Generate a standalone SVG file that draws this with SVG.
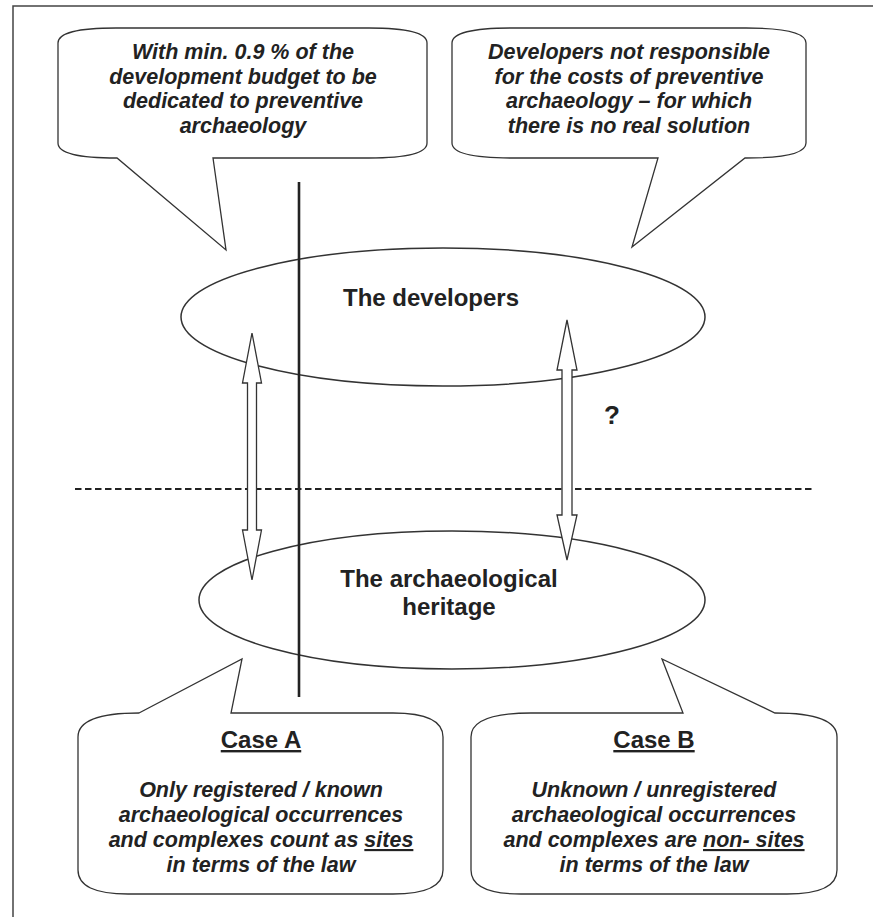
<svg xmlns="http://www.w3.org/2000/svg" width="873" height="917" viewBox="0 0 873 917">
<style>
.shape{fill:#fff;stroke:#333;stroke-width:1.3}
.ell{fill:none;stroke:#333;stroke-width:1.5}
.arrow{fill:#fff;stroke:#333;stroke-width:1.3}
.t{font-family:"Liberation Sans",Arial,sans-serif;font-weight:bold;fill:#222;text-anchor:middle}
.it{font-style:italic;font-size:21.5px}
.big{font-size:24px}
.u{text-decoration:underline}
</style>
<rect width="873" height="917" fill="#fff"/>
<path d="M13,917 L13,6 L873,6" fill="none" stroke="#444" stroke-width="1.5"/>

<g id="callout-budget">
<path class="shape" d="M116,28 L369,28 Q427,28 427,43 L427,143 Q427,158 369,158 L213,158 L226,250 L117,158 Q58,158 58,143 L58,43 Q58,28 116,28 Z"/>
<text class="t it" x="243" y="59">With min. 0.9 % of the</text>
<text class="t it" x="243" y="84">development budget to be</text>
<text class="t it" x="243" y="108">dedicated to preventive</text>
<text class="t it" x="243" y="133">archaeology</text>
</g>

<g id="callout-costs">
<path class="shape" d="M512,28 L746,28 Q806,28 806,43 L806,143 Q806,158 746,158 L745,158 L632,247 L658,158 L512,158 Q452,158 452,143 L452,43 Q452,28 512,28 Z"/>
<text class="t it" x="629" y="59">Developers not responsible</text>
<text class="t it" x="629" y="84">for the costs of preventive</text>
<text class="t it" x="629" y="108">archaeology – for which</text>
<text class="t it" x="629" y="133">there is no real solution</text>
</g>

<g id="developers">
<ellipse class="ell" cx="443" cy="317" rx="262" ry="69"/>
<text class="t big" x="431" y="306">The developers</text>
</g>

<g id="heritage">
<ellipse class="ell" cx="452" cy="600" rx="253" ry="69"/>
<text class="t big" x="449" y="587">The archaeological</text>
<text class="t big" x="449" y="615">heritage</text>
</g>

<g id="connectors">
<line x1="75" y1="489" x2="813" y2="489" stroke="#222" stroke-width="2" stroke-dasharray="6.5 3.5"/>
<polygon class="arrow" points="252,333 261.5,383 256.5,383 256.5,530 261.5,530 252,580 242.5,530 247.5,530 247.5,383 242.5,383"/>
<polygon class="arrow" points="567,320 577,370 572,370 572,515 577,515 567,560 557,515 562,515 562,370 557,370"/>
<line x1="299" y1="182" x2="299" y2="697" stroke="#222" stroke-width="2.6"/>
</g>

<g id="question">
<text class="t" x="612" y="424" font-size="26">?</text>
</g>

<g id="case-a">
<path class="shape" d="M139,713 L242,659 L231,713 L393,713 Q443,713 443,737 L443,870 Q443,894 393,894 L128,894 Q78,894 78,870 L78,737 Q78,713 139,713 Z"/>
<text class="t big u" x="261" y="748">Case A</text>
<text class="t it" x="261" y="797">Only registered / known</text>
<text class="t it" x="261" y="822">archaeological occurrences</text>
<text class="t it" x="261" y="847">and complexes count as <tspan class="u">sites</tspan></text>
<text class="t it" x="261" y="872">in terms of the law</text>
</g>

<g id="case-b">
<path class="shape" d="M531,713 L683,713 L662,659 L775,713 Q837,713 837,737 L837,870 Q837,894 787,894 L521,894 Q471,894 471,870 L471,737 Q471,713 531,713 Z"/>
<text class="t big u" x="654" y="748">Case B</text>
<text class="t it" x="654" y="797">Unknown / unregistered</text>
<text class="t it" x="654" y="822">archaeological occurrences</text>
<text class="t it" x="654" y="847">and complexes are <tspan class="u">non- sites</tspan></text>
<text class="t it" x="654" y="872">in terms of the law</text>
</g>
</svg>
